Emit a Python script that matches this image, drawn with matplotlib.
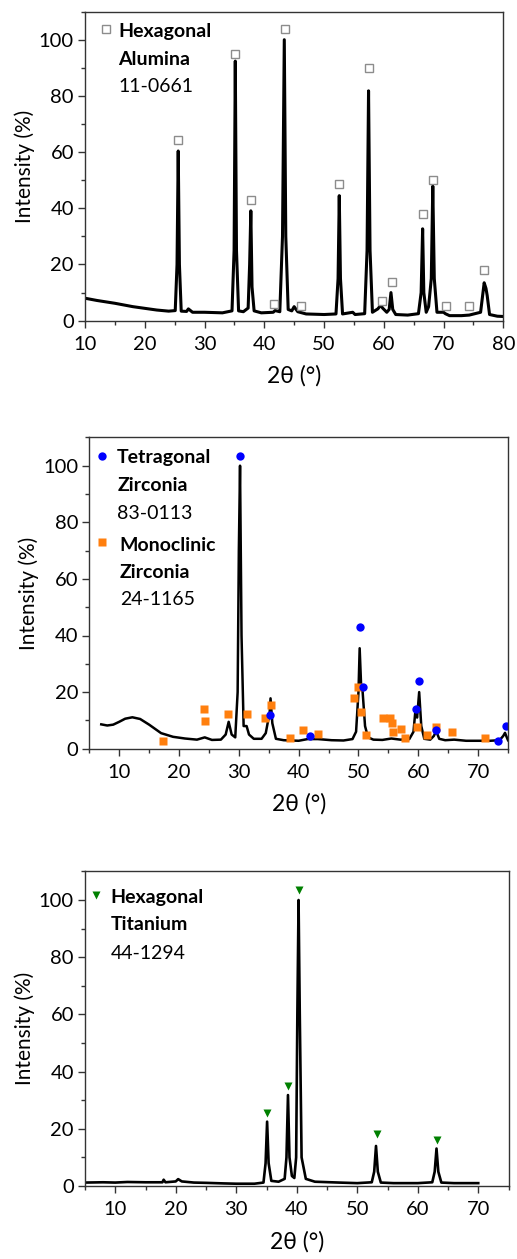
import matplotlib
matplotlib.use('Agg')
import matplotlib.pyplot as plt
from matplotlib.ticker import MultipleLocator

plt.rcParams['font.family'] = ['Lato', 'DejaVu Sans']

# --- alumina pattern (traced) ---
al_x = [10, 12, 15, 18, 20, 22, 24, 25.1, 25.4, 25.6, 25.8, 26.1, 27, 27.3, 28,
        30, 33, 34.6, 34.95, 35.15, 35.35, 35.7, 36.5, 37.3, 37.55, 37.75, 37.95,
        38.3, 39.5, 41.5, 41.8, 42.6, 43.05, 43.35, 43.6, 44.0, 44.6, 45.0, 45.6,
        47, 50, 52.0, 52.35, 52.55, 52.75, 53.1, 54.8, 55.2, 56.8, 57.2, 57.45,
        57.7, 58.1, 59.0, 59.5, 59.8, 60.5, 60.9, 61.2, 61.5, 62.0, 64, 65.8,
        66.25, 66.5, 66.7, 67.1, 67.5, 67.95, 68.2, 68.45, 68.9, 70.0, 70.3, 71,
        73, 74.3, 76.2, 76.6, 76.8, 77.1, 77.3, 77.7, 79, 80]
al_y = [8.0, 7.2, 6.2, 5.0, 4.4, 3.8, 3.4, 3.6, 20, 60.4, 20, 3.4, 3.3, 4.2, 3.0,
        3.0, 2.8, 3.5, 25, 92.4, 25, 3.5, 3.2, 4.5, 20, 39.1, 12,
        3.5, 2.8, 3.0, 3.6, 3.2, 30, 100, 30, 4.0, 3.5, 5.0, 3.2,
        2.4, 2.2, 2.4, 15, 44.5, 15, 2.4, 3.0, 2.2, 2.5, 25, 81.8,
        25, 3.0, 4.2, 5.5, 4.5, 3.0, 4.0, 10, 4.0, 2.2, 2.0, 2.5,
        10, 32.7, 10, 3.0, 5.0, 15, 47.9, 15, 3.0, 3.0, 2.5, 1.8,
        1.8, 2.0, 3.0, 10, 13.5, 11.5, 9, 2.2, 1.6, 1.5]
al_ref_x = [25.6, 35.15, 37.8, 41.7, 43.4, 46.1, 52.55, 57.45, 59.75, 61.3,
            66.5, 68.3, 70.4, 74.3, 76.8]
al_ref_y = [64.3, 95, 43.1, 5.9, 103.7, 5.3, 48.8, 89.9, 7.0, 13.9,
            37.9, 50.2, 5.3, 5.3, 18]

# --- zirconia pattern (traced) ---
zr_x = [7, 8, 9, 10, 11, 12.2, 13.5, 15, 17, 19, 21, 23, 24.3, 25.5, 27, 27.8,
        28.3, 28.8, 29.4, 29.8, 30.0, 30.2, 30.45, 30.8, 31.3, 31.7, 32.5, 33.8,
        34.5, 34.9, 35.1, 35.3, 35.6, 36.2, 37.5, 40, 41.5, 43.2, 45.5, 47.5,
        49.0, 49.6, 50.0, 50.2, 50.45, 50.7, 51.1, 51.6, 52.5, 54, 55.5, 57,
        58.5, 59.2, 59.5, 59.8, 60.15, 60.5, 61.0, 62.0, 62.6, 63.0, 63.5, 64.5,
        66, 68, 70, 72, 73.6, 74.2, 74.5, 74.8, 75]
zr_y = [8.6, 8.2, 8.5, 9.5, 10.6, 11.1, 10.5, 8.5, 5.5, 4.2, 3.6, 3.2, 4.0, 3.1, 3.2, 5.0,
        9.5, 5.0, 4.0, 20, 70, 100, 40, 8, 8, 5, 3.5, 3.5,
        5.5, 10, 11, 17.8, 9, 3.5, 3.0, 2.8, 3.4, 3.4, 3.0, 2.9,
        3.4, 6, 20, 35.5, 22, 20, 8, 4, 3.2, 3.1, 3.6, 3.2,
        3.4, 6, 13, 11, 20, 8, 3.5, 3.2, 4.5, 6.2, 3.5, 3.0,
        3.2, 2.8, 2.8, 2.8, 3.0, 4.5, 5.6, 4.0, 3.0]
tet_x = [30.2, 35.2, 41.9, 50.3, 50.8, 59.6, 60.2, 62.9, 73.4, 74.6]
tet_y = [103.5, 11.9, 4.6, 42.9, 21.8, 13.9, 23.8, 6.7, 2.8, 8.1]
mono_x = [17.3, 24.1, 24.4, 28.2, 31.4, 34.4, 35.3, 38.5, 40.7, 43.3, 49.2, 50.0,
          50.5, 51.2, 54.1, 55.3, 55.6, 55.8, 57.1, 57.8, 59.8, 61.4, 62.9, 65.7, 71.2]
mono_y = [2.8, 13.9, 9.9, 12.2, 12.2, 10.8, 15.3, 3.8, 6.6, 5.2, 17.9, 21.9,
          12.8, 4.8, 11.0, 11.0, 9.0, 5.9, 6.8, 3.8, 7.8, 4.8, 7.8, 5.9, 3.8]

# --- titanium pattern (traced) ---
ti_x = [5, 8, 10, 12, 15, 17.8, 18, 18.3, 20, 20.4, 21, 23, 25, 28, 30, 33, 34.5,
        34.85, 35.1, 35.35, 35.8, 37, 38.0, 38.3, 38.55, 38.8, 39.2, 39.6, 39.9,
        40.1, 40.3, 40.5, 40.8, 41.5, 43, 47, 50, 52.4, 52.8, 53.1, 53.4, 53.9,
        56, 60, 62.4, 62.8, 63.1, 63.4, 63.9, 66, 70]
ti_y = [1.2, 1.3, 1.2, 1.4, 1.3, 1.3, 2.2, 1.3, 1.6, 2.4, 1.6, 1.2, 1.1, 0.9, 0.8, 0.8, 1.2,
        8, 22.5, 8, 1.8, 1.5, 2.5, 10, 31.8, 10, 3.5, 2.8, 10,
        60, 100, 60, 10, 2.5, 1.5, 1.2, 1.0, 1.3, 5, 14, 5, 1.2,
        1.0, 1.0, 1.3, 5, 13.1, 5, 1.2, 1.0, 1.0]
ti_ref_x = [35.0, 38.6, 40.3, 53.2, 63.2]
ti_ref_y = [25.6, 35.1, 103.5, 18.2, 16.1]

W, H = 517, 1259
fig = plt.figure(figsize=(W / 100, H / 100), dpi=100)

ax1 = fig.add_axes([85 / W, 1 - 320.7 / H, 418.3 / W, 309.1 / H])
ax2 = fig.add_axes([89.3 / W, 1 - 748.7 / H, 418.7 / W, 311.3 / H])
ax3 = fig.add_axes([85 / W, 1 - 1186 / H, 423.5 / W, 314.6 / H])

TICK = 14.5
LEG = 14


def style(ax, xlim, xmajor):
    ax.set_xlim(*xlim)
    ax.set_ylim(0, 110)
    ax.set_yticks([0, 20, 40, 60, 80, 100])
    ax.set_xticks(xmajor)
    ax.xaxis.set_minor_locator(MultipleLocator(5))
    ax.yaxis.set_minor_locator(MultipleLocator(10))
    ax.tick_params(which='both', direction='out', top=False, right=False,
                   labelsize=TICK, width=1, color='#333333')
    ax.tick_params(which='major', length=5)
    ax.tick_params(axis='x', which='major', pad=6)
    ax.tick_params(axis='y', which='major', pad=3)
    ax.tick_params(which='minor', length=3)
    for s in ax.spines.values():
        s.set_color('#333333')
        s.set_linewidth(1)
    ax.set_ylabel('Intensity (%)', fontsize=15, labelpad=3)
    ax.set_xlabel('2θ (°)', fontsize=16.5, labelpad=9)


# panel 1
ax1.plot(al_x, al_y, color='black', lw=2.2, solid_joinstyle='round')
ax1.plot(al_ref_x, al_ref_y, 's', ms=6, mfc='white', mec='#8c8c8c', mew=1)
style(ax1, (10, 80), range(10, 81, 10))
ax1.plot([0.05], [0.944], 's', ms=6, mfc='white', mec='#8c8c8c', mew=1,
         transform=ax1.transAxes)
ax1.text(0.079, 0.935, 'Hexagonal', transform=ax1.transAxes, fontsize=LEG,
         fontweight='bold', va='center')
ax1.text(0.079, 0.845, 'Alumina', transform=ax1.transAxes, fontsize=LEG,
         fontweight='bold', va='center')
ax1.text(0.079, 0.759, '11-0661', transform=ax1.transAxes, fontsize=LEG, va='center')

# panel 2
ax2.plot(zr_x, zr_y, color='black', lw=1.8, solid_joinstyle='round')
ax2.plot(mono_x, mono_y, 's', ms=5.5, color='#ff7f0e', mec='none')
ax2.plot(tet_x, tet_y, 'o', ms=6, color='#0000ff', mec='none')
style(ax2, (5, 75), range(10, 71, 10))
ax2.plot([0.0296], [0.94], 'o', ms=6, color='#0000ff', mec='none',
         transform=ax2.transAxes, clip_on=False)
ax2.text(0.0667, 0.935, 'Tetragonal', transform=ax2.transAxes, fontsize=LEG,
         fontweight='bold', va='center')
ax2.text(0.0667, 0.844, 'Zirconia', transform=ax2.transAxes, fontsize=LEG,
         fontweight='bold', va='center')
ax2.text(0.0667, 0.756, '83-0113', transform=ax2.transAxes, fontsize=LEG, va='center')
ax2.plot([0.0296], [0.663], 's', ms=5.5, color='#ff7f0e', mec='none',
         transform=ax2.transAxes, clip_on=False)
ax2.text(0.073, 0.654, 'Monoclinic', transform=ax2.transAxes, fontsize=LEG,
         fontweight='bold', va='center')
ax2.text(0.073, 0.567, 'Zirconia', transform=ax2.transAxes, fontsize=LEG,
         fontweight='bold', va='center')
ax2.text(0.073, 0.48, '24-1165', transform=ax2.transAxes, fontsize=LEG, va='center')

# panel 3
ax3.plot(ti_x, ti_y, color='black', lw=1.9, solid_joinstyle='round')
ax3.plot(ti_ref_x, ti_ref_y, 'v', ms=6, color='#008000', mec='none')
style(ax3, (5, 75), range(10, 71, 10))
ax3.plot([0.026], [0.925], 'v', ms=6, color='#008000', mec='none',
         transform=ax3.transAxes)
ax3.text(0.061, 0.918, 'Hexagonal', transform=ax3.transAxes, fontsize=LEG,
         fontweight='bold', va='center')
ax3.text(0.061, 0.83, 'Titanium', transform=ax3.transAxes, fontsize=LEG,
         fontweight='bold', va='center')
ax3.text(0.061, 0.74, '44-1294', transform=ax3.transAxes, fontsize=LEG, va='center')

fig.savefig('out.png', dpi=100)
